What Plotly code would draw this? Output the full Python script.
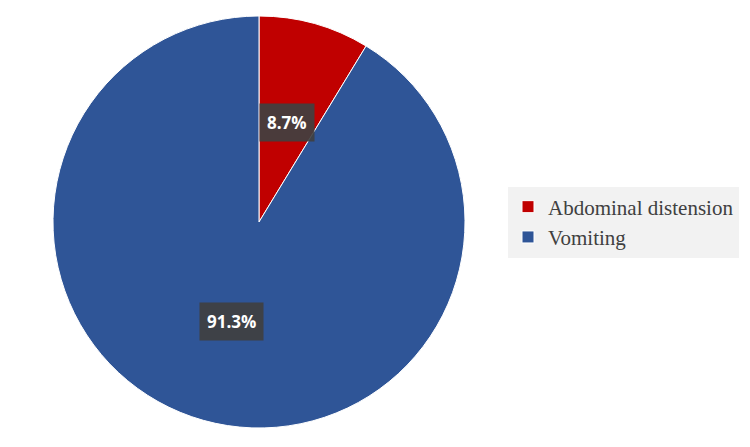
import math
import plotly.graph_objects as go

labels = ['Abdominal distension', 'Vomiting']
values = [8.7, 91.3]
colors = ['#C00000', '#2F5597']

W, H = 750, 447
OFF = 8  # page body margin shifts the figure by 8px
# pie placement in pixels (centre and radius)
cx, cy, r = 259 - OFF, 222 - OFF, 206
dom_x = [(cx - r) / W, (cx + r) / W]
dom_y = [1 - (cy + r) / H, 1 - (cy - r) / H]

fig = go.Figure()
fig.add_trace(go.Pie(
    labels=labels,
    values=values,
    marker=dict(colors=colors, line=dict(color='white', width=1)),
    sort=False,
    direction='clockwise',
    rotation=0,
    textinfo='none',
    hoverinfo='label+percent',
    domain=dict(x=dom_x, y=dom_y),
))

# percentage labels in dark boxes, placed at half radius along each slice's mid angle
total = sum(values)
start = 0.0
for v in values:
    mid = (start + v / 2) / total * 2 * math.pi
    start += v
    px = cx + 0.5 * r * math.sin(mid)
    py = cy - 0.5 * r * math.cos(mid)
    fig.add_annotation(
        x=px / W, y=1 - py / H, xref='paper', yref='paper',
        xanchor='center', yanchor='middle',
        text=f'<b>{v:.1f}%</b>', showarrow=False,
        font=dict(family='Open Sans', size=17, color='white'),
        bgcolor='rgba(64,64,64,0.92)', borderpad=7,
    )

fig.update_layout(
    width=W, height=H,
    margin=dict(l=0, r=0, t=0, b=0),
    paper_bgcolor='white',
    showlegend=True,
    legend=dict(
        x=(508 - OFF) / W, y=1 - (222 - OFF) / H, xanchor='left', yanchor='middle',
        bgcolor='#F2F2F2',
        font=dict(family='Liberation Serif', size=21, color='#404040'),
        itemwidth=30,
        traceorder='normal',
    ),
)

fig.write_html('out.html')
